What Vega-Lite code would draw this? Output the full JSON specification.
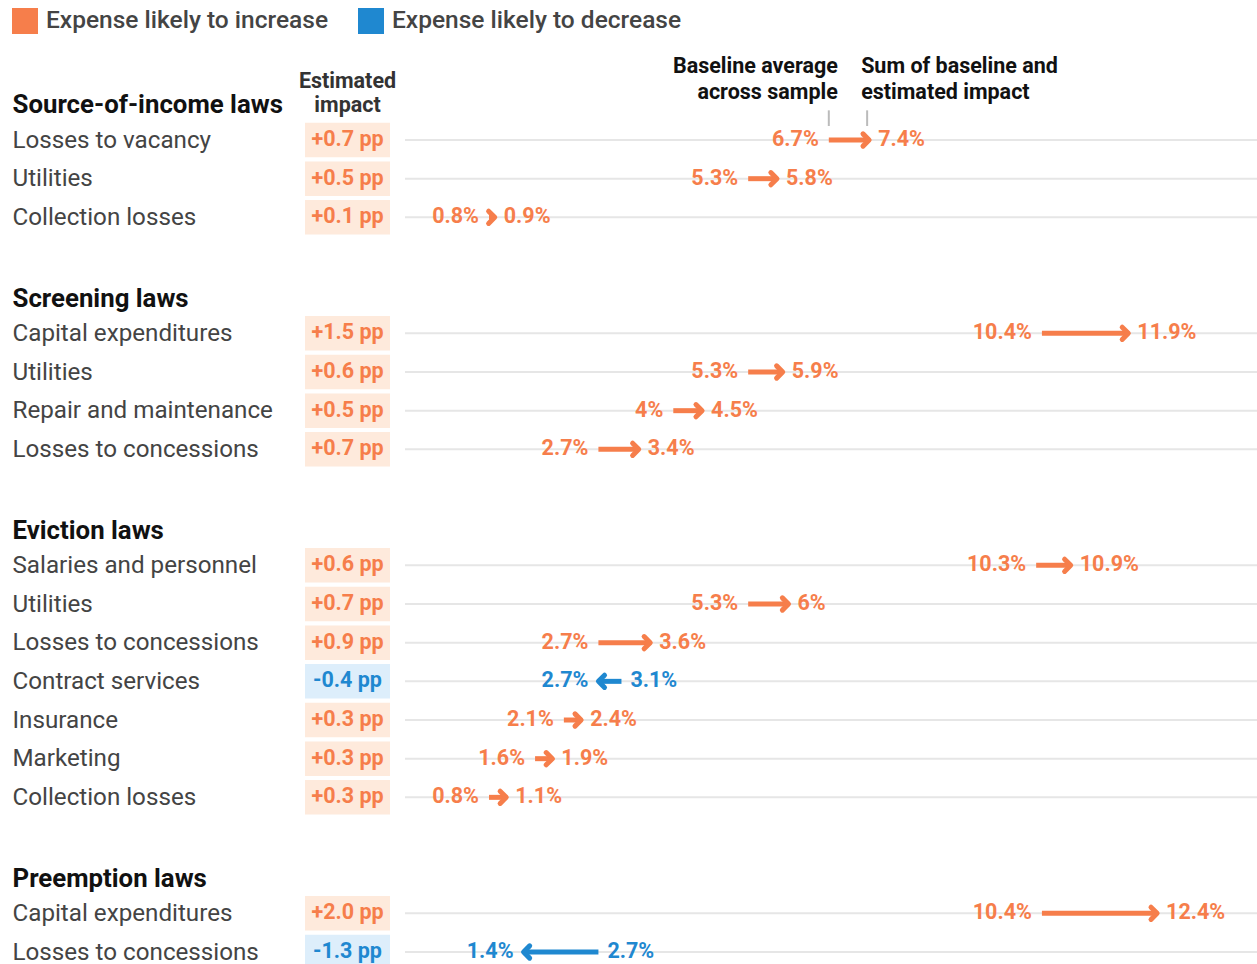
{
  "$schema": "https://vega.github.io/schema/vega-lite/v6.json",
  "padding": {"left": 12, "top": 0, "right": 0, "bottom": 0},
  "background": "white",
  "spacing": 15,
  "bounds": "flush",
  "resolve": {"scale": {"color": "independent"}, "legend": {"color": "independent"}},
  "config": {"view": {"stroke": null}, "font": "Roboto"},
  "datasets": {
    "rows": [
      {"key": "Losses to vacancy|1", "direction": "Expense likely to increase", "base": 0.067, "sum": 0.074, "impact": "+0.7 pp"},
      {"key": "Utilities|1", "direction": "Expense likely to increase", "base": 0.053, "sum": 0.058, "impact": "+0.5 pp"},
      {"key": "Collection losses|1", "direction": "Expense likely to increase", "base": 0.008, "sum": 0.009, "impact": "+0.1 pp"},
      {"key": "Capital expenditures|2", "direction": "Expense likely to increase", "base": 0.104, "sum": 0.119, "impact": "+1.5 pp"},
      {"key": "Utilities|2", "direction": "Expense likely to increase", "base": 0.053, "sum": 0.059, "impact": "+0.6 pp"},
      {"key": "Repair and maintenance|2", "direction": "Expense likely to increase", "base": 0.04, "sum": 0.045, "impact": "+0.5 pp"},
      {"key": "Losses to concessions|2", "direction": "Expense likely to increase", "base": 0.027, "sum": 0.034, "impact": "+0.7 pp"},
      {"key": "Salaries and personnel|3", "direction": "Expense likely to increase", "base": 0.103, "sum": 0.109, "impact": "+0.6 pp"},
      {"key": "Utilities|3", "direction": "Expense likely to increase", "base": 0.053, "sum": 0.06, "impact": "+0.7 pp"},
      {"key": "Losses to concessions|3", "direction": "Expense likely to increase", "base": 0.027, "sum": 0.036, "impact": "+0.9 pp"},
      {"key": "Contract services|3", "direction": "Expense likely to decrease", "base": 0.031, "sum": 0.027, "impact": "-0.4 pp"},
      {"key": "Insurance|3", "direction": "Expense likely to increase", "base": 0.021, "sum": 0.024, "impact": "+0.3 pp"},
      {"key": "Marketing|3", "direction": "Expense likely to increase", "base": 0.016, "sum": 0.019, "impact": "+0.3 pp"},
      {"key": "Collection losses|3", "direction": "Expense likely to increase", "base": 0.008, "sum": 0.011, "impact": "+0.3 pp"},
      {"key": "Capital expenditures|4", "direction": "Expense likely to increase", "base": 0.104, "sum": 0.124, "impact": "+2.0 pp"},
      {"key": "Losses to concessions|4", "direction": "Expense likely to decrease", "base": 0.027, "sum": 0.014, "impact": "-1.3 pp"}
    ],
    "annot": [
      {"key": "Source-of-income laws", "next": "Losses to vacancy|1", "base": 0.067, "sum": 0.074,
       "left": ["Baseline average", "across sample"], "right": ["Sum of baseline and", "estimated impact"],
       "column": ["Estimated", "impact"]}
    ]
  },
  "hconcat": [
    {
      "width": 85,
      "height": 964,
      "layer": [
        {
          "data": {"name": "rows"},
          "mark": {"type": "bar", "height": 34.5, "clip": true},
          "encoding": {
            "y": {"field": "key", "type": "nominal",
              "scale": {"type": "point", "padding": 0.4655, "align": 0.667,
                "domain": ["gap0a", "gap0b", "Source-of-income laws", "Losses to vacancy|1", "Utilities|1", "Collection losses|1", "gap1",
                  "Screening laws", "Capital expenditures|2", "Utilities|2", "Repair and maintenance|2", "Losses to concessions|2", "gap2",
                  "Eviction laws", "Salaries and personnel|3", "Utilities|3", "Losses to concessions|3", "Contract services|3", "Insurance|3", "Marketing|3", "Collection losses|3", "gap3",
                  "Preemption laws", "Capital expenditures|4", "Losses to concessions|4"]},
              "axis": {
                "title": null, "domain": false, "ticks": false, "tickSize": 0, "grid": false,
                "labelAlign": "left", "labelPadding": 293, "labelLimit": 320, "labelOverlap": false, "labelBound": false,
                "labelExpr": "indexof(datum.value, 'gap') == 0 ? '' : split(datum.value, '|')[0]",
                "labelFont": "Roboto",
                "labelOffset": {"condition": {"test": "indexof(datum.value, ' laws') >= 0", "value": 3.5}, "value": 0},
                "labelFontSize": {"condition": {"test": "indexof(datum.value, ' laws') >= 0", "value": 25.8}, "value": 24.2},
                "labelFontWeight": {"condition": {"test": "indexof(datum.value, ' laws') >= 0", "value": "bold"}, "value": "normal"},
                "labelColor": {"condition": {"test": "indexof(datum.value, ' laws') >= 0", "value": "#111111"}, "value": "#444444"}
              }
            },
            "fill": {"field": "direction", "type": "nominal",
              "scale": {"domain": ["Expense likely to increase", "Expense likely to decrease"], "range": ["#FEEADC", "#DDEEFB"]},
              "legend": null}
          }
        },
        {
          "data": {"name": "rows"},
          "mark": {"type": "text", "font": "Roboto", "fontSize": 21.5, "fontWeight": "bold", "align": "center", "baseline": "middle", "clip": true},
          "encoding": {
            "y": {"field": "key", "type": "nominal"},
            "text": {"field": "impact"},
            "color": {"field": "direction", "type": "nominal",
              "scale": {"domain": ["Expense likely to increase", "Expense likely to decrease"], "range": ["#F67E4B", "#1F88D0"]},
              "legend": {"orient": "none", "legendX": -293, "legendY": 8, "direction": "horizontal", "title": null,
                "symbolType": "square", "symbolSize": 676, "symbolStrokeWidth": 0, "symbolOpacity": 1, "labelFont": "Roboto", "labelFontSize": 24.5,
                "labelFontWeight": 500, "labelColor": "#444444", "labelOffset": 8, "columnPadding": 29, "labelLimit": 400, "padding": 0}
            }
          }
        },
        {
          "data": {"name": "annot"},
          "mark": {"type": "text", "font": "Roboto", "fontSize": 21.5, "fontWeight": "bold", "align": "center", "baseline": "alphabetic", "dy": -13, "lineHeight": 24, "color": "#333333"},
          "encoding": {
            "y": {"field": "key", "type": "nominal"},
            "text": {"field": "column"}
          }
        }
      ]
    },
    {
      "width": 852,
      "height": 964,
      "layer": [
        {
          "data": {"name": "rows"},
          "mark": {"type": "rule", "color": "#e6e6e6", "strokeWidth": 2},
          "encoding": {
            "y": {"field": "key", "type": "nominal",
              "scale": {"type": "point", "padding": 0.4655, "align": 0.667,
                "domain": ["gap0a", "gap0b", "Source-of-income laws", "Losses to vacancy|1", "Utilities|1", "Collection losses|1", "gap1",
                  "Screening laws", "Capital expenditures|2", "Utilities|2", "Repair and maintenance|2", "Losses to concessions|2", "gap2",
                  "Eviction laws", "Salaries and personnel|3", "Utilities|3", "Losses to concessions|3", "Contract services|3", "Insurance|3", "Marketing|3", "Collection losses|3", "gap3",
                  "Preemption laws", "Capital expenditures|4", "Losses to concessions|4"]},
              "axis": null}
          }
        },
        {
          "data": {"name": "rows"},
          "mark": {"type": "rule", "strokeWidth": 5},
          "encoding": {
            "y": {"field": "key", "type": "nominal"},
            "x": {"field": "base", "type": "quantitative", "scale": {"domain": [-0.00658, 0.14134], "nice": false, "zero": false}, "axis": null},
            "x2": {"field": "sum"},
            "color": {"field": "direction", "type": "nominal",
              "scale": {"domain": ["Expense likely to increase", "Expense likely to decrease"], "range": ["#F67E4B", "#1F88D0"]},
              "legend": null}
          }
        },
        {
          "data": {"name": "rows"},
          "mark": {"type": "point", "filled": false, "size": 150, "strokeWidth": 5, "strokeJoin": "round", "strokeCap": "round", "opacity": 1},
          "encoding": {
            "y": {"field": "key", "type": "nominal"},
            "x": {"field": "sum", "type": "quantitative"},
            "color": {"field": "direction", "type": "nominal", "legend": null},
            "shape": {"field": "direction", "type": "nominal",
              "scale": {"domain": ["Expense likely to increase", "Expense likely to decrease"], "range": ["M -1 -1 L 0 0 L -1 1", "M 1 -1 L 0 0 L 1 1"]},
              "legend": null}
          }
        },
        {
          "data": {"name": "rows"},
          "transform": [{"filter": "datum.direction == 'Expense likely to increase'"}],
          "mark": {"type": "text", "font": "Roboto", "fontSize": 21.5, "fontWeight": "bold", "align": "right", "baseline": "middle", "dx": -10},
          "encoding": {
            "y": {"field": "key", "type": "nominal"},
            "x": {"field": "base", "type": "quantitative"},
            "text": {"field": "base", "type": "quantitative", "format": ".1~%"},
            "color": {"field": "direction", "type": "nominal", "legend": null}
          }
        },
        {
          "data": {"name": "rows"},
          "transform": [{"filter": "datum.direction == 'Expense likely to increase'"}],
          "mark": {"type": "text", "font": "Roboto", "fontSize": 21.5, "fontWeight": "bold", "align": "left", "baseline": "middle", "dx": 9},
          "encoding": {
            "y": {"field": "key", "type": "nominal"},
            "x": {"field": "sum", "type": "quantitative"},
            "text": {"field": "sum", "type": "quantitative", "format": ".1~%"},
            "color": {"field": "direction", "type": "nominal", "legend": null}
          }
        },
        {
          "data": {"name": "rows"},
          "transform": [{"filter": "datum.direction == 'Expense likely to decrease'"}],
          "mark": {"type": "text", "font": "Roboto", "fontSize": 21.5, "fontWeight": "bold", "align": "right", "baseline": "middle", "dx": -10},
          "encoding": {
            "y": {"field": "key", "type": "nominal"},
            "x": {"field": "sum", "type": "quantitative"},
            "text": {"field": "sum", "type": "quantitative", "format": ".1~%"},
            "color": {"field": "direction", "type": "nominal", "legend": null}
          }
        },
        {
          "data": {"name": "rows"},
          "transform": [{"filter": "datum.direction == 'Expense likely to decrease'"}],
          "mark": {"type": "text", "font": "Roboto", "fontSize": 21.5, "fontWeight": "bold", "align": "left", "baseline": "middle", "dx": 9},
          "encoding": {
            "y": {"field": "key", "type": "nominal"},
            "x": {"field": "base", "type": "quantitative"},
            "text": {"field": "base", "type": "quantitative", "format": ".1~%"},
            "color": {"field": "direction", "type": "nominal", "legend": null}
          }
        },
        {
          "data": {"name": "annot"},
          "mark": {"type": "rule", "color": "#bbbbbb", "strokeWidth": 2, "yOffset": 9, "y2Offset": -14},
          "encoding": {
            "y": {"field": "key", "type": "nominal"},
            "y2": {"field": "next"},
            "x": {"field": "base", "type": "quantitative"}
          }
        },
        {
          "data": {"name": "annot"},
          "mark": {"type": "rule", "color": "#bbbbbb", "strokeWidth": 2, "yOffset": 9, "y2Offset": -14, "xOffset": -2},
          "encoding": {
            "y": {"field": "key", "type": "nominal"},
            "y2": {"field": "next"},
            "x": {"field": "sum", "type": "quantitative"}
          }
        },
        {
          "data": {"name": "annot"},
          "mark": {"type": "text", "font": "Roboto", "fontSize": 21.5, "fontWeight": "bold", "align": "right", "baseline": "alphabetic", "dy": -28, "dx": 9, "lineHeight": 26, "color": "#111111"},
          "encoding": {
            "y": {"field": "key", "type": "nominal"},
            "x": {"field": "base", "type": "quantitative"},
            "text": {"field": "left"}
          }
        },
        {
          "data": {"name": "annot"},
          "mark": {"type": "text", "font": "Roboto", "fontSize": 21.5, "fontWeight": "bold", "align": "left", "baseline": "alphabetic", "dy": -28, "dx": -8, "lineHeight": 26, "color": "#111111"},
          "encoding": {
            "y": {"field": "key", "type": "nominal"},
            "x": {"field": "sum", "type": "quantitative"},
            "text": {"field": "right"}
          }
        }
      ]
    }
  ]
}
